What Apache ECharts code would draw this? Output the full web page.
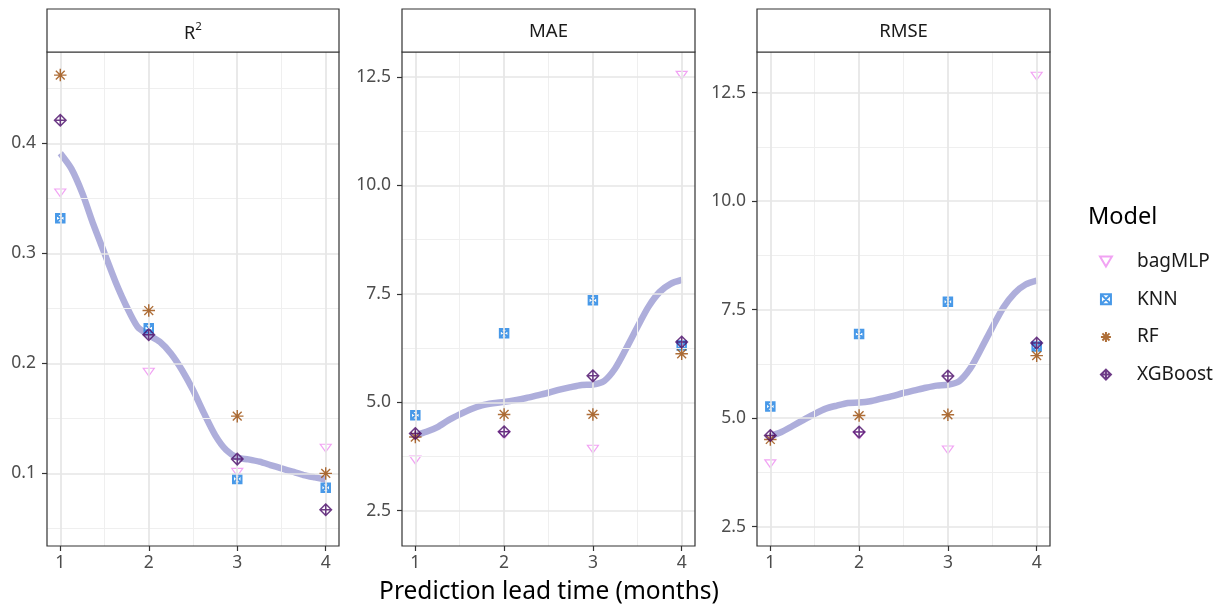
<!DOCTYPE html>
<html>
<head>
<meta charset="utf-8">
<script src="https://cdn.jsdelivr.net/npm/echarts@6/dist/echarts.min.js"></script>
<style>
html,body{margin:0;padding:0;background:#fff;}
#chart{width:1226px;height:606px;}
</style>
</head>
<body>
<div id="chart"></div>
<script>
// ---------------- data ----------------
const models = ['bagMLP', 'KNN', 'RF', 'XGBoost'];
const leadTimes = [1, 2, 3, 4];
const metrics = ['R2', 'MAE', 'RMSE'];

const r2BagMLP  = [0.355, 0.192, 0.101, 0.123];
const r2KNN     = [0.332, 0.232, 0.095, 0.087];
const r2RF      = [0.462, 0.248, 0.152, 0.100];
const r2XGBoost = [0.421, 0.226, 0.113, 0.067];

const maeBagMLP  = [3.67, 4.24, 3.92, 12.54];
const maeKNN     = [4.70, 6.59, 7.35, 6.31];
const maeRF      = [4.20, 4.72, 4.72, 6.12];
const maeXGBoost = [4.28, 4.32, 5.61, 6.39];

const rmseBagMLP  = [3.95, 4.60, 4.27, 12.88];
const rmseKNN     = [5.27, 6.94, 7.68, 6.65];
const rmseRF      = [4.51, 5.06, 5.08, 6.44];
const rmseXGBoost = [4.60, 4.68, 5.97, 6.73];

// smooth trend curve at these lead times
const curveX = [1, 1.125, 1.25, 1.375, 1.5, 1.625, 1.75, 1.875, 2, 2.125, 2.25, 2.375, 2.5,
                2.625, 2.75, 2.875, 3, 3.125, 3.25, 3.375, 3.5, 3.625, 3.75, 3.875, 4];
const r2Curve   = [0.391, 0.377, 0.3545, 0.326, 0.300, 0.274, 0.2515, 0.233, 0.2257, 0.2196, 0.209, 0.194, 0.1757,
                   0.1545, 0.1348, 0.1212, 0.1145, 0.1127, 0.1106, 0.1076, 0.1045, 0.1015, 0.0985, 0.0964, 0.0945];
const maeCurve  = [4.24, 4.32, 4.43, 4.59, 4.72, 4.84, 4.93, 4.98, 5.01, 5.05, 5.10, 5.16, 5.22,
                   5.29, 5.35, 5.40, 5.41, 5.49, 5.78, 6.24, 6.73, 7.20, 7.54, 7.73, 7.82];
const rmseCurve = [4.59, 4.68, 4.82, 4.96, 5.10, 5.22, 5.29, 5.35, 5.36, 5.39, 5.45, 5.51, 5.58,
                   5.64, 5.70, 5.75, 5.77, 5.85, 6.14, 6.60, 7.09, 7.55, 7.88, 8.08, 8.17];

// tick labels / gridlines
const xTicks = [1, 2, 3, 4];
const xMinor = [1.5, 2.5, 3.5];
const r2Ticks = [0.1, 0.2, 0.3, 0.4];
const r2Minor = [0.05, 0.15, 0.25, 0.35, 0.45];
const errTicks = [2.5, 5.0, 7.5, 10.0, 12.5];
const errMinor = [3.75, 6.25, 8.75, 11.25];

// ---------------- layout / style ----------------
const FONT = 'Noto Sans';
const panels = [
  {left: 47, width: 292, ymin: 0.034, ymax: 0.483, ticks: r2Ticks, minor: r2Minor,
   values: [r2BagMLP, r2KNN, r2RF, r2XGBoost], curve: r2Curve},
  {left: 402, width: 293, ymin: 1.687, ymax: 13.076, ticks: errTicks, minor: errMinor,
   values: [maeBagMLP, maeKNN, maeRF, maeXGBoost], curve: maeCurve},
  {left: 757, width: 293, ymin: 2.056, ymax: 13.434, ticks: errTicks, minor: errMinor,
   values: [rmseBagMLP, rmseKNN, rmseRF, rmseXGBoost], curve: rmseCurve}
];
const PTOP = 52, PH = 494, STRIP_TOP = 9;

const symbols = {
  bagMLP:  {path: 'path://M0,0L10,0L5,8.4Z', size: [11, 9.2], color: '#ee8cf0', bw: 1.2},
  KNN:     {path: 'path://M0,0L10,0L10,10L0,10Z M0,0L10,10 M10,0L0,10', size: 8.5, color: '#1a80e2', bw: 2.0},
  RF:      {path: 'path://M5,0L5,10 M0,5L10,5 M1.46,1.46L8.54,8.54 M8.54,1.46L1.46,8.54', size: 12.5, color: '#9a4a06', bw: 1.4},
  XGBoost: {path: 'path://M5,0L10,5L5,10L0,5Z M5,0L5,10 M0,5L10,5', size: 11.5, color: '#480a68', bw: 1.5}
};

const grids = [], xAxes = [], yAxes = [], series = [], graphics = [];
const majorStyle = {color: '#e6e6e6', width: 1.7, type: 'solid'};
const minorStyle = {color: '#efefef', width: 1.0, type: 'solid'};

panels.forEach((p, k) => {
  grids.push({left: p.left, top: PTOP, width: p.width, height: PH, show: false});
  xAxes.push({
    type: 'value', gridIndex: k, min: 0.85, max: 4.15,
    axisLine: {show: false},
    splitLine: {show: false},
    axisTick: {show: true, length: 5, lineStyle: {color: '#333333', width: 1.2}, customValues: xTicks},
    axisLabel: {color: '#4d4d4d', fontSize: 17.5, fontFamily: FONT, margin: 8, customValues: xTicks,
                formatter: v => String(v)}
  });
  yAxes.push({
    type: 'value', gridIndex: k, min: p.ymin, max: p.ymax,
    axisLine: {show: false},
    splitLine: {show: false},
    axisTick: {show: true, length: 5, lineStyle: {color: '#333333', width: 1.2}, customValues: p.ticks},
    axisLabel: {color: '#4d4d4d', fontSize: 17.5, fontFamily: FONT, margin: 11, customValues: p.ticks,
                formatter: v => v.toFixed(1)}
  });
  // gridlines
  const ml = [];
  xMinor.forEach(v => ml.push({xAxis: v, lineStyle: minorStyle}));
  p.minor.forEach(v => { if (v > p.ymin && v < p.ymax) ml.push({yAxis: v, lineStyle: minorStyle}); });
  xTicks.forEach(v => ml.push({xAxis: v, lineStyle: majorStyle}));
  p.ticks.forEach(v => ml.push({yAxis: v, lineStyle: majorStyle}));
  series.push({
    type: 'line', xAxisIndex: k, yAxisIndex: k, data: [], z: 1, silent: true,
    markLine: {silent: true, symbol: ['none', 'none'], label: {show: false}, animation: false, data: ml}
  });
  // trend curve
  series.push({
    type: 'line', xAxisIndex: k, yAxisIndex: k, z: 2, silent: true,
    data: curveX.map((x, i) => [x, p.curve[i]]),
    showSymbol: false, smooth: 0.25,
    lineStyle: {color: 'rgba(108,108,190,0.55)', width: 6.5}
  });
  // points
  models.forEach((m, j) => {
    const s = symbols[m];
    series.push({
      name: m, type: 'scatter', xAxisIndex: k, yAxisIndex: k, z: 3 + j,
      data: leadTimes.map((x, i) => [x, p.values[j][i]]),
      symbol: s.path, symbolSize: s.size, symbolKeepAspect: true,
      itemStyle: {color: 'rgba(0,0,0,0)', borderColor: s.color, borderWidth: s.bw},
      emphasis: {disabled: true}
    });
  });
  // panel border + strip
  graphics.push({type: 'rect', z: 100, silent: true,
    shape: {x: p.left, y: PTOP, width: p.width, height: PH},
    style: {fill: null, stroke: '#333333', lineWidth: 1.2}});
  graphics.push({type: 'rect', z: 100, silent: true,
    shape: {x: p.left, y: STRIP_TOP, width: p.width, height: PTOP - STRIP_TOP},
    style: {fill: '#ffffff', stroke: '#333333', lineWidth: 1.2}});
});

const stripLabels = [
  {text: '{r|R}{s|2}', rich: {r: {fontSize: 18, fontFamily: FONT, fill: '#1a1a1a', lineHeight: 22, verticalAlign: 'bottom'},
                          s: {fontSize: 11.5, fontFamily: FONT, fill: '#1a1a1a', lineHeight: 12, verticalAlign: 'top'}}},
  {text: 'MAE'},
  {text: 'RMSE'}
];
stripLabels.forEach((lab, k) => {
  const p = panels[k];
  const style = {text: lab.text, x: p.left + p.width / 2, y: (STRIP_TOP + PTOP) / 2 + 1,
                 align: 'center', verticalAlign: 'middle', fontSize: 18.5, fontFamily: FONT, fill: '#1a1a1a'};
  if (lab.rich) style.rich = lab.rich;
  graphics.push({type: 'text', z: 101, silent: true, style: style});
});

graphics.push({type: 'text', z: 101, silent: true,
  style: {text: 'Prediction lead time (months)', x: 549, y: 592, align: 'center', verticalAlign: 'middle',
          fontSize: 24.5, fontFamily: FONT, fill: '#000000'}});
graphics.push({type: 'text', z: 101, silent: true,
  style: {text: 'Model', x: 1088, y: 217, align: 'left', verticalAlign: 'middle',
          fontSize: 23.5, fontFamily: FONT, fill: '#000000'}});

const option = {
  animation: false,
  backgroundColor: '#ffffff',
  grid: grids,
  xAxis: xAxes,
  yAxis: yAxes,
  legend: {
    data: models, orient: 'vertical', left: 1094, top: 247,
    itemWidth: 52, itemHeight: 10, itemGap: 18.7,
    selectedMode: false,
    textStyle: {fontSize: 19, fontFamily: FONT, color: '#1a1a1a'}
  },
  series: series,
  graphic: graphics
};

const chart = echarts.init(document.getElementById('chart'), null, {renderer: 'canvas'});
chart.setOption(option);
</script>
</body>
</html>
